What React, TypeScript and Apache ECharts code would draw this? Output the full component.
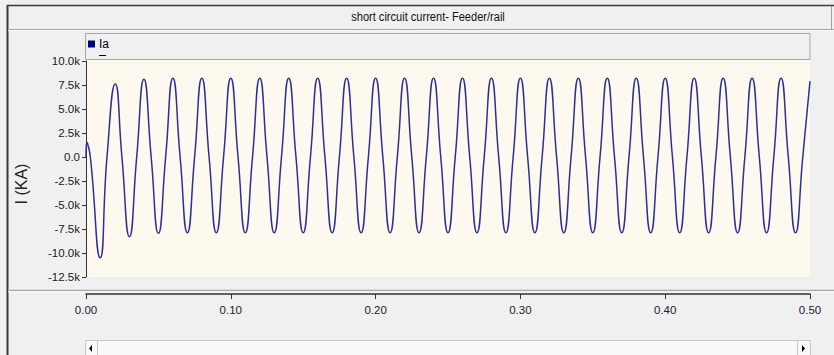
import React, { useEffect, useRef } from "react";
import * as echarts from "echarts";

const titleText = "short circuit current- Feeder/rail";
const seriesName = "Ia";
const yAxisName = "I (KA)";

// time (s)
const timeS = [
  0, 0.0005, 0.001, 0.003, 0.0098, 0.0145, 0.0202, 0.0248, 0.03, 0.035, 0.04, 0.045, 0.05, 0.055,
  0.06, 0.065, 0.07, 0.075, 0.08, 0.085, 0.09, 0.095,
  0.1, 0.105, 0.11, 0.115, 0.12, 0.125, 0.13, 0.135,
  0.14, 0.145, 0.15, 0.155, 0.16, 0.165, 0.17, 0.175,
  0.18, 0.185, 0.19, 0.195, 0.2, 0.205, 0.21, 0.215,
  0.22, 0.225, 0.23, 0.235, 0.24, 0.245, 0.25, 0.255,
  0.26, 0.265, 0.27, 0.275, 0.28, 0.285, 0.29, 0.295,
  0.3, 0.305, 0.31, 0.315, 0.32, 0.325, 0.33, 0.335,
  0.34, 0.345, 0.35, 0.355, 0.36, 0.365, 0.37, 0.375,
  0.38, 0.385, 0.39, 0.395, 0.4, 0.405, 0.41, 0.415,
  0.42, 0.425, 0.43, 0.435, 0.44, 0.445, 0.45, 0.455,
  0.46, 0.465, 0.47, 0.475, 0.48, 0.485, 0.49, 0.495,
  0.5,
];

// current Ia (A)
const currentA = [
  0, 1500, 1450, 0, -10500, 0, 7600, 0, -8300, 0, 8100, 0, -7950, 0,
  8200, 0, -7900, 0, 8200, 0, -7900, 0,
  8200, 0, -7900, 0, 8200, 0, -7900, 0,
  8200, 0, -7900, 0, 8200, 0, -7900, 0,
  8200, 0, -7900, 0, 8200, 0, -7900, 0,
  8200, 0, -7900, 0, 8200, 0, -7900, 0,
  8200, 0, -7900, 0, 8200, 0, -7900, 0,
  8200, 0, -7900, 0, 8200, 0, -7900, 0,
  8200, 0, -7900, 0, 8200, 0, -7900, 0,
  8200, 0, -7900, 0, 8200, 0, -7900, 0,
  8200, 0, -7900, 0, 8200, 0, -7900, 0,
  8200, 0, -7900, 0, 8200, 0, -7900, 0,
  7900,
];

const yMin = -12500;
const yMax = 10000;
const yStep = 2500;
const xMin = 0;
const xMax = 0.5;
const xStep = 0.1;

export default function App() {
  const ref = useRef<HTMLDivElement>(null);
  useEffect(() => {
    document.body.style.margin = "0";
    const chart = echarts.init(ref.current!, null, { renderer: "svg" });
    const font = "'Liberation Sans', Arial, sans-serif";
    const dark = "#3a3a3a";
    chart.setOption({
      animation: false,
      backgroundColor: "#f0f0f0",
      textStyle: { fontFamily: font },
      grid: { left: 86, right: 24, top: 61, height: 216, show: false, containLabel: false },
      legend: {
        show: true,
        left: 88,
        top: 38,
        padding: 0,
        icon: "rect",
        itemWidth: 7,
        itemHeight: 7,
        itemGap: 4,
        textStyle: { fontSize: 12, color: "#000", fontFamily: font, padding: [0, 0, 0, -1] },
        data: [{ name: seriesName, itemStyle: { color: "#000080" } }],
      },
      xAxis: {
        type: "value",
        min: xMin,
        max: xMax,
        interval: xStep,
        offset: 17,
        axisLine: { show: true, onZero: false, lineStyle: { color: "#333", width: 1.5 } },
        axisTick: { show: true, length: 5, inside: false, lineStyle: { color: "#333" } },
        axisLabel: {
          fontSize: 11.5,
          color: "#1c1c30",
          margin: 10,
          fontFamily: font,
          formatter: (v: number) => v.toFixed(2),
        },
        splitLine: { show: false },
      },
      yAxis: {
        type: "value",
        min: yMin,
        max: yMax,
        interval: yStep,
        axisLine: { show: true, onZero: false, lineStyle: { color: "#333", width: 1 } },
        axisTick: { show: true, length: 4, lineStyle: { color: "#333" } },
        axisLabel: {
          fontSize: 11.5,
          color: "#1a1a1a",
          margin: 6,
          fontFamily: font,
          formatter: (v: number) => (v === 0 ? "0.0" : (v / 1000).toFixed(1) + "k"),
        },
        splitLine: { show: false },
      },
      graphic: [
        { type: "rect", z: -10, silent: true, shape: { x: 86, y: 59.5, width: 724, height: 217.5 }, style: { fill: "#fdf9ef" } },
        { type: "rect", z: -9, silent: true, shape: { x: 85.5, y: 33.5, width: 724.5, height: 26 }, style: { fill: "#f0f0f0", stroke: "#a8a8a8", lineWidth: 1 } },
        { type: "line", z: 5, silent: true, shape: { x1: 99, y1: 55.5, x2: 106, y2: 55.5 }, style: { stroke: "#000", lineWidth: 1 } },
        { type: "line", z: 5, silent: true, shape: { x1: 7.5, y1: 5, x2: 7.5, y2: 355 }, style: { stroke: dark, lineWidth: 2 } },
        { type: "line", z: 5, silent: true, shape: { x1: 7, y1: 5.5, x2: 834, y2: 5.5 }, style: { stroke: dark, lineWidth: 1.5 } },
        { type: "line", z: 5, silent: true, shape: { x1: 8, y1: 29.5, x2: 834, y2: 29.5 }, style: { stroke: "#a0a0a0", lineWidth: 1 } },
        { type: "line", z: 5, silent: true, shape: { x1: 8, y1: 30.5, x2: 834, y2: 30.5 }, style: { stroke: "#ffffff", lineWidth: 1 } },
        { type: "line", z: 5, silent: true, shape: { x1: 831.5, y1: 6, x2: 831.5, y2: 29 }, style: { stroke: "#a0a0a0", lineWidth: 1 } },
        {
          type: "text",
          z: 5,
          silent: true,
          x: 428,
          y: 17,
          scaleX: 0.82,
          style: { text: titleText, fontSize: 13.5, fontFamily: font, fill: "#111", textAlign: "center", textVerticalAlign: "middle" },
        },
        {
          type: "text",
          z: 5,
          silent: true,
          x: 21,
          y: 184,
          rotation: Math.PI / 2,
          style: { text: yAxisName, fontSize: 16, fontFamily: font, fill: "#222", textAlign: "center", textVerticalAlign: "middle" },
        },
        { type: "line", z: 5, silent: true, shape: { x1: 8, y1: 290.5, x2: 834, y2: 290.5 }, style: { stroke: "#a8a8a8", lineWidth: 1.5 } },
        { type: "line", z: 5, silent: true, shape: { x1: 8, y1: 291.8, x2: 834, y2: 291.8 }, style: { stroke: "#ffffff", lineWidth: 1 } },
        { type: "rect", z: 5, silent: true, shape: { x: 85.5, y: 340.5, width: 725, height: 20 }, style: { fill: "#f9f9f9", stroke: "#c8c8c8", lineWidth: 1 } },
        { type: "line", z: 6, silent: true, shape: { x1: 97.5, y1: 341, x2: 97.5, y2: 355 }, style: { stroke: "#c8c8c8", lineWidth: 1 } },
        { type: "line", z: 6, silent: true, shape: { x1: 797.5, y1: 341, x2: 797.5, y2: 355 }, style: { stroke: "#c8c8c8", lineWidth: 1 } },
        { type: "polygon", z: 6, silent: true, shape: { points: [[92, 345], [89, 348.5], [92, 352]] }, style: { fill: "#000" } },
        { type: "polygon", z: 6, silent: true, shape: { points: [[802, 345], [805, 348.5], [802, 352]] }, style: { fill: "#000" } },
      ],
      series: [
        {
          name: seriesName,
          type: "line",
          data: timeS.map((t, i) => [t, currentA[i]]),
          showSymbol: false,
          symbol: "none",
          smooth: 0.55,
          lineStyle: { color: "#2d2d9b", width: 1.5 },
          itemStyle: { color: "#2d2d9b" },
        },
      ],
    });
    return () => chart.dispose();
  }, []);
  return <div ref={ref} style={{ width: 834, height: 355 }} />;
}
